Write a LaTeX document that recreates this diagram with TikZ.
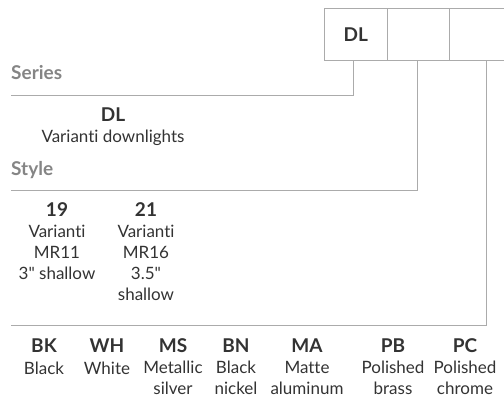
\documentclass[tikz,border=0pt]{standalone}
\usepackage{fontspec}
\setmainfont{Lato}[Ligatures={TeXOff,NoCommon}]
\usetikzlibrary{positioning}
\definecolor{rulegray}{HTML}{ABABAB}
\definecolor{headgray}{HTML}{858585}
\definecolor{inkgray}{HTML}{333333}
\newcommand{\fincode}[1]{{\fontsize{19}{20.5}\selectfont\bfseries #1}}

\begin{document}
\begin{tikzpicture}[x=1pt, y=-1pt,
    every node/.style={font=\fontsize{17}{21}\selectfont, text=inkgray, align=center, inner sep=0pt},
    codebox/.style={draw=rulegray, line width=0.8pt, minimum height=52pt, anchor=north west},
    head/.style={font=\fontsize{19}{20}\selectfont\bfseries, text=headgray, anchor=west},
    item/.style={anchor=base},
    conn/.style={draw=rulegray, line width=0.8pt}]
    \useasboundingbox (0,0) rectangle (504,398);

    % Code boxes
    \node[codebox, minimum width=63pt] (b1) at (324,8) {\fincode{DL}};
    \node[codebox, minimum width=62pt] (b2) at (387,8) {};
    \node[codebox, minimum width=68pt] (b3) at (449,8) {};

    % Connector ends
    \coordinate (e1) at (11,95);
    \coordinate (e2) at (11,190);
    \coordinate (e3) at (11,325);
    \draw[conn] ([xshift=-3pt]b1.south) |- (e1);
    \draw[conn] ([xshift=-1pt]b2.south) |- (e2);
    \draw[conn] ([xshift=3pt]b3.south) |- (e3);

    % Series (base = last line)
    \node[head] (series) at (11,73) {Series};
    \node[item] (dl) at (113,143) {\fincode{DL}\\Varianti downlights};

    % Style
    \node[head] (style) at (11,170) {Style};
    \node[item] (s19) at (57,280) {\fincode{19}\\Varianti\\MR11\\3" shallow};
    \node[item] (s21) at (146,301) {\fincode{21}\\Varianti\\MR16\\3.5"\\shallow};

    % Finishes
    \node[item] (bk) at (44,374) {\fincode{BK}\\Black};
    \node[item] (wh) at (107,374) {\fincode{WH}\\White};
    \node[item] (ms) at (173,395) {\fincode{MS}\\Metallic\\silver};
    \node[item] (bn) at (236,395) {\fincode{BN}\\Black\\nickel};
    \node[item] (ma) at (307,395) {\fincode{MA}\\Matte\\aluminum};
    \node[item] (pb) at (393,395) {\fincode{PB}\\Polished\\brass};
    \node[item] (pc) at (465,395) {\fincode{PC}\\Polished\\chrome};
\end{tikzpicture}
\end{document}
